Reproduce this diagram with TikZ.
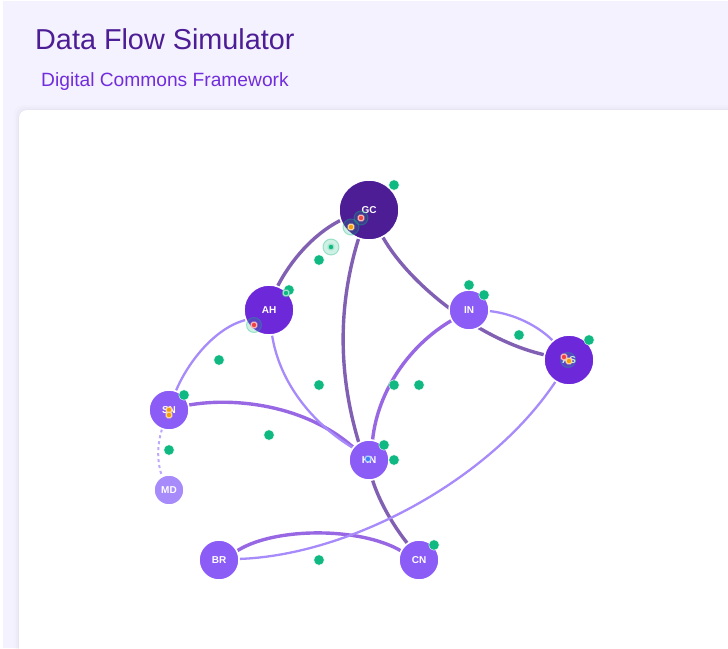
\documentclass[tikz,border=0pt]{standalone}
\usepackage{fontspec}
\setmainfont{Liberation Sans}
\usetikzlibrary{backgrounds}
\definecolor{color1}{HTML}{4C1D95}
\definecolor{color2}{HTML}{6D28D9}
\definecolor{color3}{HTML}{8B5CF6}
\definecolor{color4}{HTML}{A78BFA}
\definecolor{color5}{HTML}{10B981}
\definecolor{color6}{HTML}{F59E0B}
\definecolor{color7}{HTML}{EF4444}
\definecolor{color8}{HTML}{3B82F6}
\definecolor{page}{HTML}{F5F2FF}
\tikzset{
    hub/.style={circle, draw=white, line width=1.5pt, inner sep=0pt, text=white,
        font=\fontsize{10}{10}\selectfont\bfseries},
    linkstrong/.style={color1, opacity=0.7, line width=3.4pt},
    linkmid/.style={color2, opacity=0.7, line width=3.4pt},
    linklight/.style={color4, line width=2.3pt},
    token/.style={circle, fill=color5, draw=white, line width=0.4pt, minimum size=10.5pt, inner sep=0pt},
    halo/.style={circle, fill=color5, fill opacity=0.2, draw=color5, draw opacity=0.35, line width=1pt, minimum size=#1, inner sep=0pt},
    packet/.style={rectangle, rounded corners=1.5pt, fill=#1, draw=#1!40, line width=1.2pt, minimum size=5.5pt, inner sep=0pt}
}
\begin{document}
\begin{tikzpicture}[x=1pt, y=-1pt]
        \useasboundingbox (0,0) rectangle (728,648);

        % Hubs
        \foreach \name/\x/\y/\size/\col/\text in {
            gc/369/210/60/color1/GC, ah/269/310/50/color2/AH, in/469/310/40/color3/IN,
            as/569/360/50/color2/AS, sn/169/410/40/color3/SN, kn/369/460/40/color3/KN,
            md/169/490/30/color4/MD, br/219/560/40/color3/BR, cn/419/560/40/color3/CN} {
        \node[hub, fill=\col, minimum size=\size pt] (\name) at (\x,\y) {\text};
        }

        % Panel and links
        \begin{scope}[on background layer]
        \fill[white] (0,0) rectangle (728,648);
        \fill[page] (3,1) rectangle (728,648);
        \foreach \grow/\op in {5/0.01, 3/0.015, 1/0.025} {
        \fill[black, opacity=\op, rounded corners=9pt] (19-\grow,110-\grow) rectangle (740,660);
        }
        \fill[white, rounded corners=8pt] (19,110) rectangle (740,660);

        \draw[linkstrong] (gc.200) .. controls (312,235) and (290,262) .. (ah.70);
        \draw[linkstrong] (gc.-110) .. controls (338,305) and (338,373) .. (kn.120);
        \draw[linkstrong] (gc.-63) .. controls (410,285) and (480,340) .. (as.168);
        \draw[linkstrong] (kn.-80) .. controls (380,503) and (393,525) .. (cn.125);
        \draw[linkmid] (in.211) .. controls (410,345) and (378,390) .. (kn.80);
        \draw[linkmid] (sn.14) .. controls (235,397) and (305,405) .. (kn.141);
        \draw[linkmid] (br.27) .. controls (275,527) and (360,527) .. (cn.153);
        \draw[linklight] (ah.203) .. controls (215,328) and (188,362) .. (sn.70);
        \draw[linklight] (ah.-83) .. controls (280,385) and (315,425) .. (kn.143);
        \draw[linklight] (in.-3) .. controls (515,314) and (538,326) .. (as.130);
        \draw[linklight] (as.238) .. controls (490,480) and (350,555) .. (br.3);
        \draw[linklight, color4!75, line width=2pt, dashed] (sn.250) .. controls (157,445) and (157,462) .. (md.117);
        \end{scope}

        % Tokens
        \foreach \i/\x/\y in {1/394/185, 2/319/260, 3/469/285, 4/484/295, 5/289/290, 6/519/335,
            7/589/340, 8/219/360, 9/319/385, 10/394/385, 11/419/385, 12/184/395,
            13/269/435, 14/384/445, 15/394/460, 16/169/450, 17/434/545, 18/319/560} {
        \node[token] (token\i) at (\x,\y) {};
        }

        % Packets
        \foreach \i/\x/\y/\size/\col in {1/331/247/16/color5, 2/351/227/16/color6, 3/361/218/14/color7,
            4/254/325/15/color7, 5/286/293/8/color5} {
        \node[halo=\size pt] (halo\i) at (\x,\y) {};
        \node[packet=\col] (packet\i) at (\x,\y) {};
        }
        \node[halo=15pt] (halo6) at (568,360) {};
        \foreach \i/\x/\y/\col in {6/169/410/color6, 7/169/415/color6, 8/368/459/color8,
            9/564/357/color7, 10/569/361/color6} {
        \node[packet=\col] (packet\i) at (\x,\y) {};
        }

        % Heading
        \node[anchor=base west, inner sep=0pt, text=color1, font=\fontsize{28.8}{30}\selectfont] (title) at (35,49) {Data Flow Simulator};
        \node[anchor=base west, inner sep=0pt, text=color2!90!color3, font=\fontsize{19.2}{20}\selectfont] (subtitle) at (41,86) {Digital Commons Framework};
    \end{tikzpicture}
\end{document}
